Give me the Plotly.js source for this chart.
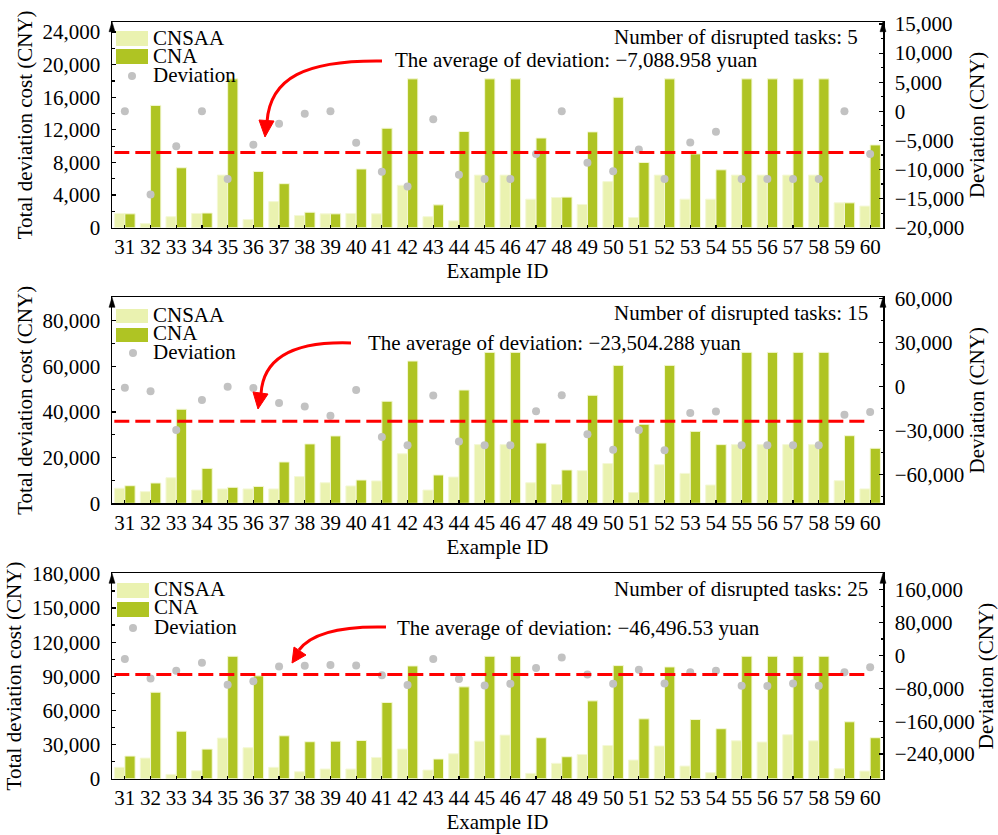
<!DOCTYPE html>
<html><head><meta charset="utf-8">
<script src="https://cdn.plot.ly/plotly-3.0.1.min.js"></script>
<style>
body{margin:0;background:#fff;} #chart{width:998px;height:835px;}
#chart text{font-family:'Liberation Serif','Times New Roman',serif !important;}
</style>
</head><body><div id="chart"></div>
<script>
const exampleIds = ["31","32","33","34","35","36","37","38","39","40","41","42","43","44","45","46","47","48","49","50","51","52","53","54","55","56","57","58","59","60"];

const cnsaa5 = [1750,500,1350,1750,6450,1000,3200,1500,1700,1750,1700,5200,1350,850,6450,6450,3500,3700,2850,5650,1250,6450,3500,3500,6450,6450,6450,6450,3050,2650];
const cna5 = [1700,15000,7350,1800,18250,6900,5400,1900,1700,7200,12200,18250,2800,11800,18250,18250,11000,3750,11750,16000,8000,18250,9050,7100,18250,18250,18250,18250,3050,10150];
const dev5 = [0,-14300,-6000,0,-11650,-5750,-2150,-400,0,-5400,-10400,-12900,-1350,-10900,-11650,-11650,-7330,0,-8850,-10300,-6550,-11650,-5350,-3500,-11650,-11650,-11650,-11650,0,-7330];
const avg5 = -7088.958;

const cnsaa15 = [6600,5100,11200,5800,6300,6300,6300,11700,9000,7600,9800,21700,5800,11500,25700,25700,9000,8200,14300,17400,4700,16900,13100,8000,25700,25700,25700,25700,9900,6300];
const cna15 = [7700,8900,41200,15300,7000,7400,18100,26000,29500,10200,44700,62300,12400,49600,66100,66100,26400,14600,47300,60400,34600,60400,31500,25700,66100,66100,66100,66100,29600,24100];
const dev15 = [-700,-3200,-29500,-9100,0,-900,-11100,-13600,-19800,-2300,-34300,-40000,-6100,-37300,-40000,-40000,-16800,-5900,-32500,-43000,-29500,-43400,-18000,-17000,-40000,-40000,-40000,-40000,-19100,-17300];
const avg15 = -23504.288;

const cnsaa25 = [10000,18100,3800,7000,35700,27200,10000,6100,8500,8500,18700,26000,7600,21900,33000,38300,4700,13500,21300,29200,16400,28700,11100,5300,33300,32200,38600,33300,8800,6700];
const cna25 = [19900,76000,41800,26000,107600,90400,37700,32500,33000,33600,67000,99100,17300,80700,107600,107600,36000,19300,68400,99400,52600,98200,52000,43900,107600,107600,107600,107600,50000,36000];
const dev25 = [-8900,-56000,-37300,-17800,-71400,-62500,-26800,-25200,-23500,-24300,-47900,-72200,-8900,-57600,-73000,-69000,-30800,-4900,-46200,-69000,-34900,-68200,-40600,-37300,-73800,-74600,-68200,-73800,-40600,-28400];
const avg25 = -46496.53;

const avgLabels = ["The average of deviation: \u22127,088.958 yuan","The average of deviation: \u221223,504.288 yuan","The average of deviation: \u221246,496.53 yuan"];
const taskLabels = ["Number of disrupted tasks: 5","Number of disrupted tasks: 15","Number of disrupted tasks: 25"];

const LIGHT = '#eaf2b0', DARK = '#afc423', EDGE = '#f4f8d6', GREY = '#c2c2c2';
const FONT = "'Liberation Serif', 'Times New Roman', serif";
const W = 998, H = 835, ML = 112, MR = 115, MT = 22, MB = 56;
const PW = W - ML - MR, PH = H - MT - MB;
const px = x => (x - ML) / PW;
const py = y => (H - MB - y) / PH;

const panels = [
  {cnsaa: cnsaa5, cna: cna5, dev: dev5, avg: avg5, top: 21.7, bot: 227.7, lmax: 25224, ldt: 4000, rr: [-20000, 15343], rdt: 5000},
  {cnsaa: cnsaa15, cna: cna15, dev: dev15, avg: avg15, top: 297.3, bot: 503.3, lmax: 90200, ldt: 20000, rr: [-79500, 60900], rdt: 30000},
  {cnsaa: cnsaa25, cna: cna25, dev: dev25, avg: avg25, top: 573.3, bot: 778.7, lmax: 180500, ldt: 30000, rr: [-300000, 200000], rdt: 80000}
];

const traces = [];
const layout = {
  width: W, height: H, margin: {l: ML, r: MR, t: MT, b: MB},
  paper_bgcolor: '#fff', plot_bgcolor: 'rgba(0,0,0,0)',
  barmode: 'group', bargap: 0.2, bargroupgap: 0,
  showlegend: false, font: {family: FONT, size: 21, color: '#000'},
  shapes: [], annotations: []
};

const axBase = {showline: true, linecolor: '#000', linewidth: 1.5, ticks: 'inside', ticklen: 4, tickwidth: 1.2, tickcolor: '#000',
  tickfont: {family: FONT, size: 21, color: '#000'}, showgrid: false, zeroline: false, fixedrange: true};

panels.forEach((p, i) => {
  const xa = i === 0 ? 'x' : 'x' + (i + 1);
  const yl = i === 0 ? 'y' : 'y' + (2 * i + 1);
  const yr = 'y' + (2 * i + 2);
  const xKey = i === 0 ? 'xaxis' : 'xaxis' + (i + 1);
  const ylKey = i === 0 ? 'yaxis' : 'yaxis' + (2 * i + 1);
  const yrKey = 'yaxis' + (2 * i + 2);
  const dom = [py(p.bot), py(p.top)];

  traces.push({type: 'bar', name: 'CNSAA', x: exampleIds, y: p.cnsaa, xaxis: xa, yaxis: yl,
    marker: {color: LIGHT, line: {color: EDGE, width: 1}}});
  traces.push({type: 'bar', name: 'CNA', x: exampleIds, y: p.cna, xaxis: xa, yaxis: yl,
    marker: {color: DARK, line: {color: EDGE, width: 1}}});
  traces.push({type: 'scatter', mode: 'markers', name: 'Deviation', x: exampleIds, y: p.dev, xaxis: xa, yaxis: yr,
    marker: {color: GREY, size: 8}});

  layout[xKey] = Object.assign({}, axBase, {anchor: yl, domain: [0, 1], type: 'category', range: [-0.5, 29.5], mirror: true,
    ticklen: 3, title: {text: 'Example ID', font: {family: FONT, size: 21}, standoff: 4}});
  layout[ylKey] = Object.assign({}, axBase, {anchor: xa, domain: dom, range: [0, p.lmax], dtick: p.ldt, tick0: 0, tickformat: ',d',
    ticklabelstandoff: 6,
    minor: {ticks: 'inside', ticklen: 2.5, dtick: p.ldt / 2, tickcolor: '#000'},
    title: {text: 'Total deviation cost (CNY)', font: {family: FONT, size: 21}, standoff: 4}});
  layout[yrKey] = Object.assign({}, axBase, {anchor: xa, overlaying: yl, side: 'right', range: p.rr, dtick: p.rdt, tick0: 0, tickformat: ',d',
    ticklabelstandoff: 6,
    minor: {ticks: 'inside', ticklen: 2.5, dtick: p.rdt / 2, tickcolor: '#000'},
    title: {text: 'Deviation (CNY)', font: {family: FONT, size: 21}, standoff: 6}});

  // average line
  layout.shapes.push({type: 'line', xref: xa + ' domain', yref: yr, x0: 0.003, x1: 0.98, y0: p.avg, y1: p.avg,
    line: {color: '#ff0000', width: 3, dash: '15px,6px'}, layer: 'above'});
  // axis arrows
  [ML, W - MR].forEach(ax => {
    const t = p.top;
    layout.shapes.push({type: 'path', xref: 'paper', yref: 'paper',
      path: `M ${px(ax)},${py(t)} L ${px(ax - 3)},${py(t + 10)} L ${px(ax + 3)},${py(t + 10)} Z`,
      fillcolor: '#000', line: {color: '#000', width: 0.5}});
  });
});

// manual legends
const legendPos = [
  {x0: 116, x1: 148, s1: [31, 46], s2: [49, 64], dot: [132, 76], t: [38, 56, 75]},
  {x0: 116, x1: 148, s1: [309, 323], s2: [328, 342], dot: [133, 353], t: [315, 333, 352]},
  {x0: 117, x1: 149, s1: [583, 598], s2: [602, 617], dot: [133, 628], t: [589, 607, 627]}
];
const legendNames = ['CNSAA', 'CNA', 'Deviation'];
legendPos.forEach(L => {
  layout.shapes.push({type: 'rect', xref: 'paper', yref: 'paper', x0: px(L.x0), x1: px(L.x1), y0: py(L.s1[1]), y1: py(L.s1[0]), fillcolor: LIGHT, line: {width: 0}});
  layout.shapes.push({type: 'rect', xref: 'paper', yref: 'paper', x0: px(L.x0), x1: px(L.x1), y0: py(L.s2[1]), y1: py(L.s2[0]), fillcolor: DARK, line: {width: 0}});
  layout.shapes.push({type: 'circle', xref: 'paper', yref: 'paper', x0: px(L.dot[0] - 4), x1: px(L.dot[0] + 4), y0: py(L.dot[1] + 4), y1: py(L.dot[1] - 4), fillcolor: GREY, line: {width: 0}});
  legendNames.forEach((n, k) => {
    layout.annotations.push({xref: 'paper', yref: 'paper', x: px(L.x1 + 4), y: py(L.t[k]), text: n, showarrow: false,
      xanchor: 'left', yanchor: 'middle', font: {family: FONT, size: 21, color: '#000'}, borderpad: 0});
  });
});

// text annotations
const taskPos = [[859, 37], [869, 313], [869, 589]];
const avgPos = [[394, 60], [367, 343], [396, 628]];
for (let i = 0; i < 3; i++) {
  layout.annotations.push({xref: 'paper', yref: 'paper', x: px(taskPos[i][0]), y: py(taskPos[i][1]), text: taskLabels[i], showarrow: false,
    xanchor: 'right', yanchor: 'middle', font: {family: FONT, size: 21, color: '#000'}, borderpad: 0});
  layout.annotations.push({xref: 'paper', yref: 'paper', x: px(avgPos[i][0]), y: py(avgPos[i][1]), text: avgLabels[i], showarrow: false,
    xanchor: 'left', yanchor: 'middle', font: {family: FONT, size: 21, color: '#000'}, borderpad: 0});
}

// curved red arrows
function P(pts) { return pts.map(([x, y]) => `${px(x)},${py(y)}`); }
const curves = [
  {c: [[382, 61], [305, 60], [270, 78], [267, 122]], h: [[259, 120], [274, 121], [265, 137]]},
  {c: [[351, 343], [290, 341], [263, 360], [261, 394]], h: [[253, 392], [268, 394], [258, 409]]},
  {c: [[386, 627], [345, 626], [312, 632], [299, 650]], h: [[294, 647], [306, 655], [292, 663]]}
];
curves.forEach(cv => {
  const c = P(cv.c);
  layout.shapes.push({type: 'path', xref: 'paper', yref: 'paper', path: `M ${c[0]} C ${c[1]} ${c[2]} ${c[3]}`,
    line: {color: '#ff0000', width: 3}, layer: 'above'});
  const h = P(cv.h);
  layout.shapes.push({type: 'path', xref: 'paper', yref: 'paper', path: `M ${h[0]} L ${h[1]} L ${h[2]} Z`,
    fillcolor: '#ff0000', line: {color: '#ff0000', width: 1}, layer: 'above'});
});

Plotly.newPlot('chart', traces, layout, {staticPlot: true});
</script></body></html>
